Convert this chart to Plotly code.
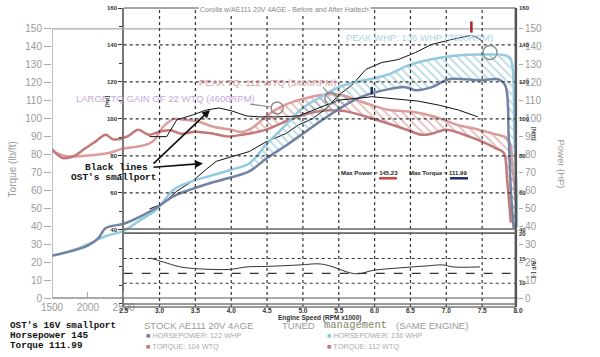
import plotly.graph_objects as go

# ---------------- data ----------------
# base dyno chart: stock vs tuned AE111 20V (left axis torque lb/ft, right axis HP)
tq_stock_rpm = [1500,1650,1800,1950,2100,2250,2350,2550,2700,2850,3000,3150,3300,3500,3750,3950,4150,4300,4500,4650,4800,5050,5300,5550,5750,5900,6200,6450,6650,6800,7000,7250,7500,7700,7800,7850,7900]
tq_stock = [83,78,79,83,87,91,88.5,90,93.8,91,92.7,93.5,91.6,92.7,91.6,90,91,92,94,96.5,99,102.5,104.5,104.3,102.6,100.9,97.1,93.8,91,91.6,93.8,91,87.1,83.3,81,65,42]

tq_tuned_rpm = [1500,1700,2000,2250,2500,2700,2900,3050,3200,3350,3550,3750,4000,4150,4300,4450,4600,4800,5050,5350,5550,5750,5950,6200,6550,6850,7150,7400,7650,7860,7930,8000]
tq_tuned = [82,79,79.4,80.5,83.3,84.4,87.1,95.4,99.8,99.3,98.2,95.4,93.8,92.5,95,100,104.5,108.5,111.5,113.5,113,110.3,107.6,104.8,103.7,100.9,96.5,94.3,91.6,88.5,70,40]

hp_stock_rpm = [1500,1750,2000,2150,2250,2500,2750,2950,3200,3450,3700,3900,4250,4500,4800,5050,5300,5550,5750,5920,6200,6430,6570,6800,7030,7270,7490,7720,7820,7870,7900,7940]
hp_stock = [23.7,26,29.2,33.6,39,41.4,45.8,50.2,56.8,60.7,64,66.2,70.6,78,86,93,100,106.5,110.9,113.6,116.4,117.5,115.8,117.5,121.9,121.9,121.3,121.9,118.6,90,60,39]

hp_tuned_rpm = [1500,1750,2000,2250,2500,2750,2950,3200,3450,3700,4000,4250,4500,4750,5000,5250,5500,5750,6000,6200,6470,6790,7110,7470,7840,7900,7950,8000]
hp_tuned = [23.5,26,30,34.5,37.5,44,49,60.5,65,68,71.5,75,86,96,106,112,117.5,120.5,122.5,124.7,129.6,133,135,135.7,135,133,90,40]

# overlaid dyno sheet: OST's 16V smallport (black lines, sheet's own units)
ost_hp_rpm = [2860,3040,3240,3460,3650,3790,4010,4250,4490,4760,4940,5130,5320,5500,5680,5880,6100,6330,6570,6790,7070,7350,7440,7490]
ost_hp = [51.3,53.9,60.9,66.3,72.7,77,79.6,82.3,87.7,92,96.8,100,105.4,112.9,118.2,126.8,130.5,132.1,135.9,140.2,142.9,145.2,143.9,142.3]
ost_tq_rpm = [2860,3100,3240,3460,3650,3830,4010,4210,4390,4670,4940,5220,5500,5780,5960,6100,6330,6610,6890,7170,7440]
ost_tq = [90.4,90.4,99.5,102.1,104.8,105.9,104.3,101.6,101.1,101.1,101.6,105.9,110.2,111.2,112.0,111.5,110.7,109.6,107.5,104.8,101.1]
afr_rpm = [2870,3050,3290,3560,3980,4220,4500,4960,5240,5420,5610,5770,5980,6350,6730,6950,7090,7470]
afr = [15.1,14.3,13.3,12.9,12.8,13.3,13.4,13.7,13.9,13.3,12.3,11.9,12.6,13.1,13.5,13.7,13.3,13.3]

base_ticks = list(range(0, 151, 10))
base_x_ticks = [1500, 2000, 2500]
sheet_x_ticks = [2500, 3000, 3500, 4000, 4500, 5000, 5500, 6000, 6500, 7000, 7500, 8000]
sheet_x_labels = ["2.5", "3.0", "3.5", "4.0", "4.5", "5.0", "5.5", "6.0", "6.5", "7.0", "7.5", "8.0"]
sheet_y_ticks = [40, 60, 80, 100, 120, 140, 160]
afr_ticks = [10, 15, 20]
hatch_start_tq = 4150
hatch_start_hp = 4250

# ---------------- styles ----------------
C_STOCK_HP = "#7282a2"
C_TUNED_HP = "#92cbe0"
C_STOCK_TQ = "#c27878"
C_TUNED_TQ = "#dc9c9c"
GRAY = "#9a9a9a"
MONO = "Liberation Mono"
SANS = "Liberation Sans"

W, H = 600, 357
ML, MR, MT, MB = 52, 82, 5, 50
PW, PH = W - ML - MR, H - MT - MB


def P(x, y):
    return (x - ML) / PW, (H - MB - y) / PH


def seg(xs, ys, start):
    pts = [(a, b) for a, b in zip(xs, ys) if a >= start]
    return [p[0] for p in pts], [p[1] for p in pts]


fig = go.Figure()

# hatched gains
sx, sy = seg(tq_stock_rpm, tq_stock, hatch_start_tq)
tx, ty = seg(tq_tuned_rpm, tq_tuned, hatch_start_tq)
fig.add_trace(go.Scatter(x=sx, y=sy, mode="lines", line=dict(width=0), xaxis="x", yaxis="y"))
fig.add_trace(go.Scatter(x=tx, y=ty, mode="lines", line=dict(width=0), fill="tonexty",
                         fillcolor="rgba(0,0,0,0)",
                         fillpattern=dict(shape="\\", fgcolor="#c87676", bgcolor="rgba(0,0,0,0)",
                                          size=6, solidity=0.3),
                         xaxis="x", yaxis="y"))
sx, sy = seg(hp_stock_rpm, hp_stock, hatch_start_hp)
tx, ty = seg(hp_tuned_rpm, hp_tuned, hatch_start_hp)
fig.add_trace(go.Scatter(x=sx, y=sy, mode="lines", line=dict(width=0), xaxis="x", yaxis="y4"))
fig.add_trace(go.Scatter(x=tx, y=ty, mode="lines", line=dict(width=0), fill="tonexty",
                         fillcolor="rgba(0,0,0,0)",
                         fillpattern=dict(shape="\\", fgcolor="#6fb0c8", bgcolor="rgba(0,0,0,0)",
                                          size=6, solidity=0.3),
                         xaxis="x", yaxis="y4"))

# base curves
fig.add_trace(go.Scatter(x=tq_tuned_rpm, y=tq_tuned, mode="lines",
                         line=dict(color=C_TUNED_TQ, width=2.5, shape="spline"), xaxis="x", yaxis="y"))
fig.add_trace(go.Scatter(x=tq_stock_rpm, y=tq_stock, mode="lines",
                         line=dict(color=C_STOCK_TQ, width=2.5, shape="spline"), xaxis="x", yaxis="y"))
fig.add_trace(go.Scatter(x=hp_tuned_rpm, y=hp_tuned, mode="lines",
                         line=dict(color=C_TUNED_HP, width=2.5, shape="spline"), xaxis="x", yaxis="y4"))
fig.add_trace(go.Scatter(x=hp_stock_rpm, y=hp_stock, mode="lines",
                         line=dict(color=C_STOCK_HP, width=2.5, shape="spline"), xaxis="x", yaxis="y4"))

# OST black lines
fig.add_trace(go.Scatter(x=ost_hp_rpm, y=ost_hp, mode="lines",
                         line=dict(color="#111", width=1), xaxis="x", yaxis="y2"))
fig.add_trace(go.Scatter(x=ost_tq_rpm, y=ost_tq, mode="lines",
                         line=dict(color="#111", width=1), xaxis="x", yaxis="y5"))
fig.add_trace(go.Scatter(x=afr_rpm, y=afr, mode="lines",
                         line=dict(color="#333", width=1, shape="spline"), xaxis="x2", yaxis="y3"))

# ---------------- shapes ----------------
shapes = []
x_end = 7970
# base left axis and 150 line
shapes.append(dict(type="line", xref="x", yref="y", x0=1500, x1=1500, y0=0, y1=150,
                   line=dict(color="#aaa", width=1.5)))
shapes.append(dict(type="line", xref="x", yref="y", x0=1500, x1=x_end, y0=150, y1=150,
                   line=dict(color="#aaa", width=1.2)))
# sheet grid
for v in sheet_x_ticks[1:-1]:
    shapes.append(dict(type="line", xref="x", yref="paper", x0=v, x1=v, y0=0, y1=1,
                       line=dict(color="#333", width=1.2, dash="dot")))
for v in [60, 80, 100, 120, 140]:
    shapes.append(dict(type="line", xref="x", yref="y2", x0=2500, x1=x_end, y0=v, y1=v,
                       line=dict(color="#333", width=1.2, dash="dot")))
for v, d in [(15, "dot"), (10, "dot"), (12, "dash")]:
    shapes.append(dict(type="line", xref="x", yref="y3", x0=2500, x1=x_end, y0=v, y1=v,
                       line=dict(color="#333", width=1.1, dash=d)))
# sheet borders
shapes.append(dict(type="line", xref="x", yref="paper", x0=2500, x1=x_end, y0=1, y1=1,
                   line=dict(color="#888", width=1.5)))
shapes.append(dict(type="line", xref="x", yref="paper", x0=x_end, x1=x_end, y0=0, y1=1,
                   line=dict(color="#555", width=2.5)))
for v in [40.4, 38.2]:
    shapes.append(dict(type="line", xref="x", yref="y2", x0=2500, x1=x_end, y0=v, y1=v,
                       line=dict(color="#666", width=1.6)))
for v in [0.0, 0.01]:
    shapes.append(dict(type="line", xref="x", yref="paper", x0=2500, x1=x_end, y0=v, y1=v,
                       line=dict(color="#777", width=1.6)))
# peak markers
i_hp = ost_hp.index(max(ost_hp))
shapes.append(dict(type="line", xref="x", yref="y2", x0=ost_hp_rpm[i_hp], x1=ost_hp_rpm[i_hp],
                   y0=ost_hp[i_hp] + 1.5, y1=ost_hp[i_hp] + 7.5, line=dict(color="#b02020", width=2.5)))
i_tq = ost_tq.index(max(ost_tq))
shapes.append(dict(type="line", xref="x", yref="y5", x0=ost_tq_rpm[i_tq], x1=ost_tq_rpm[i_tq],
                   y0=ost_tq[i_tq] + 1.3, y1=ost_tq[i_tq] + 5.3, line=dict(color="#1c2c6c", width=2.5)))
# circles
for cx, cy, rx, ry, col in [(4640, 105.9, 84, 3.3, "#a08888"), (5390, 111.4, 84, 3.3, "#8a8a8a"),
                            (7610, 136.8, 98, 3.9, "#8a9298")]:
    shapes.append(dict(type="circle", xref="x", yref="y", x0=cx - rx, x1=cx + rx, y0=cy - ry, y1=cy + ry,
                       line=dict(color=col, width=1.5)))
# pointer lines
for (a, b), (c, d) in [((250, 102), (271, 105)), ((323, 85), (329, 92))]:
    x0, y0 = P(a, b)
    x1, y1 = P(c, d)
    shapes.append(dict(type="line", xref="paper", yref="paper", x0=x0, y0=y0, x1=x1, y1=y1,
                       line=dict(color="#8a8a8a", width=1.2)))
# max value underlines
for a, b, yy, col in [(379, 397, 177, "#d04040"), (450, 468, 177, "#1c2c6c")]:
    x0, y0 = P(a, yy)
    x1, _ = P(b, yy)
    shapes.append(dict(type="line", xref="paper", yref="paper", x0=x0, y0=y0, x1=x1, y1=y0,
                       line=dict(color=col, width=2.5)))

# ---------------- annotations ----------------
ann = []


def text(t, x, y, size, color, family=SANS, anchor="center", angle=0, bold=False, bg=None):
    px, py = P(x, y)
    d = dict(text=("<b>%s</b>" % t) if bold else t, x=px, y=py, xref="paper", yref="paper",
             showarrow=False, xanchor=anchor, yanchor="middle", textangle=angle,
             font=dict(size=size, color=color, family=family))
    if bg:
        d["bgcolor"] = bg
    ann.append(d)


text("Corolla w/AE111 20V 4AGE - Before and After Haltech", 284, 7, 7, "#888", bg="white")
text("PEAK WHP: 136 WHP (7600RPM)", 419, 35, 9.5, "#a6d3e6")
text("PEAK TQ: 112 WTQ (5400RPM)", 267, 80, 9.5, "#dc9e9e")
text("LARGE TQ GAIN OF 22 WTQ (4600RPM)", 165, 96, 9.5, "#c6a8d8")
text("[hp]", 107, 100, 6, "#333", angle=-90, bold=True)
text("[Nm]", 534, 132, 6, "#555", angle=90, bold=True)
text("A/F [-]", 534, 268, 6, "#333", angle=90, bold=True)
text("Black lines", 116, 166, 9.5, "#111", family=MONO, bold=True)
text("OST's smallport", 114, 176, 9.5, "#111", family=MONO, bold=True)
text("Max Power = 145.23", 369, 172, 6, "#222", bold=True)
text("Max Torque = 111.99", 438, 172, 6, "#222", bold=True)
text("Engine Speed (RPM x1000)", 319, 318, 6.5, "#333", bold=True)
text("Torque (lb/ft)", 12, 168, 10, GRAY, angle=-90)
text("Power (HP)", 562, 162, 9.5, GRAY, angle=90)
text("OST's 16V smallport", 8, 326, 9.3, "#111", family=MONO, anchor="left", bold=True)
text("Horsepower 145", 8, 336, 9.3, "#111", family=MONO, anchor="left", bold=True)
text("Torque 111.99", 8, 346, 9.3, "#111", family=MONO, anchor="left", bold=True)
text("STOCK AE111 20V 4AGE", 142, 326, 9.5, GRAY, anchor="left")
text("<span style='color:%s'>■</span> HORSEPOWER: 122 WHP" % C_STOCK_HP, 144, 336, 7.3, "#aaa", anchor="left")
text("<span style='color:%s'>■</span> TORQUE: 104 WTQ" % C_STOCK_TQ, 144, 347, 7.3, "#aaa", anchor="left")
text("TUNED", 280, 326, 9.5, GRAY, anchor="left")
text("management", 322, 325, 10.5, "#7e8868", family=MONO, anchor="left")
text("(SAME ENGINE)", 394, 326, 9.5, GRAY, anchor="left")
text("<span style='color:%s'>■</span> HORSEPOWER: 136 WHP" % C_TUNED_HP, 325, 336, 7.3, "#aaa", anchor="left")
text("<span style='color:%s'>■</span> TORQUE: 112 WTQ" % C_STOCK_TQ, 325, 347, 7.3, "#aaa", anchor="left")

for (hx, hy), (tx_, ty_) in [((210, 108), (152, 163)), ((203, 162), (152, 166))]:
    px, py = P(hx, hy)
    ann.append(dict(text="", x=px, y=py, xref="paper", yref="paper", showarrow=True,
                    ax=tx_ - hx, ay=ty_ - hy, arrowhead=2, arrowsize=1, arrowwidth=1.6,
                    arrowcolor="#111"))

# ---------------- layout ----------------
base_range = [-(H - MB - 298) / 1.8133, 150 + (26 - MT) / 1.8133]
sheet_range = [40 - (H - MB - 229) / 1.8667, 160 + (5 - MT) / 1.8667]
afr_range = [10 - (H - MB - 283) / 5.0, 15 + (258 - MT) / 5.0]
yaxis2_pos = (123 - ML) / PW

fig.update_layout(
    width=W, height=H, margin=dict(l=ML, r=MR, t=MT, b=MB),
    paper_bgcolor="white", plot_bgcolor="white", showlegend=False,
    font=dict(family=SANS),
    xaxis=dict(range=[1500, 8000], anchor="free", position=(H - MB - 298) / PH,
               showline=True, linecolor="#aaa", linewidth=1.5, showgrid=False, zeroline=False,
               tickvals=base_x_ticks, ticks="inside", ticklen=5, tickcolor="#aaa",
               tickfont=dict(size=10, color=GRAY)),
    xaxis2=dict(range=[1500, 8000], overlaying="x", anchor="free", position=0, side="bottom",
                showline=False, showgrid=False, zeroline=False,
                tickvals=sheet_x_ticks, ticktext=["<b>%s</b>" % s for s in sheet_x_labels],
                ticks="", ticklabelstandoff=-2,
                tickfont=dict(size=6.5, color="#333")),
    yaxis=dict(range=base_range, showline=False, showgrid=False, zeroline=False,
               tickvals=base_ticks, ticks="outside", ticklen=7, tickcolor="#aaa",
               tickfont=dict(size=10, color=GRAY)),
    yaxis4=dict(range=base_range, overlaying="y", side="right", showline=False, showgrid=False,
                zeroline=False, tickvals=base_ticks, ticks="outside", ticklen=4, tickcolor="#aaa",
                tickfont=dict(size=10, color=GRAY)),
    yaxis2=dict(range=sheet_range, overlaying="y", anchor="free", position=yaxis2_pos, side="left",
                showline=True, linecolor="#777", linewidth=1.5, showgrid=False, zeroline=False,
                tickvals=sheet_y_ticks, ticktext=["<b>%d</b>" % v for v in sheet_y_ticks],
                ticks="outside", ticklen=4, tickcolor="#333",
                minor=dict(dtick=10, ticks="outside", ticklen=3, tickcolor="#333"),
                tickfont=dict(size=6, color="#333")),
    yaxis5=dict(range=sheet_range, overlaying="y", side="right", showline=False, showgrid=False,
                zeroline=False, tickvals=sheet_y_ticks, ticktext=["<b>%d</b>" % v for v in sheet_y_ticks],
                ticks="", tickfont=dict(size=6, color="#333")),
    yaxis3=dict(range=afr_range, overlaying="y", side="right", showline=False, showgrid=False,
                zeroline=False, tickvals=afr_ticks, ticktext=["<b>%d</b>" % v for v in afr_ticks],
                ticks="", tickfont=dict(size=6, color="#333")),
    shapes=shapes, annotations=ann,
)

fig.write_html("out.html", config={"displayModeBar": False},
               post_script="document.body.style.margin='0';document.body.style.padding='0';")
